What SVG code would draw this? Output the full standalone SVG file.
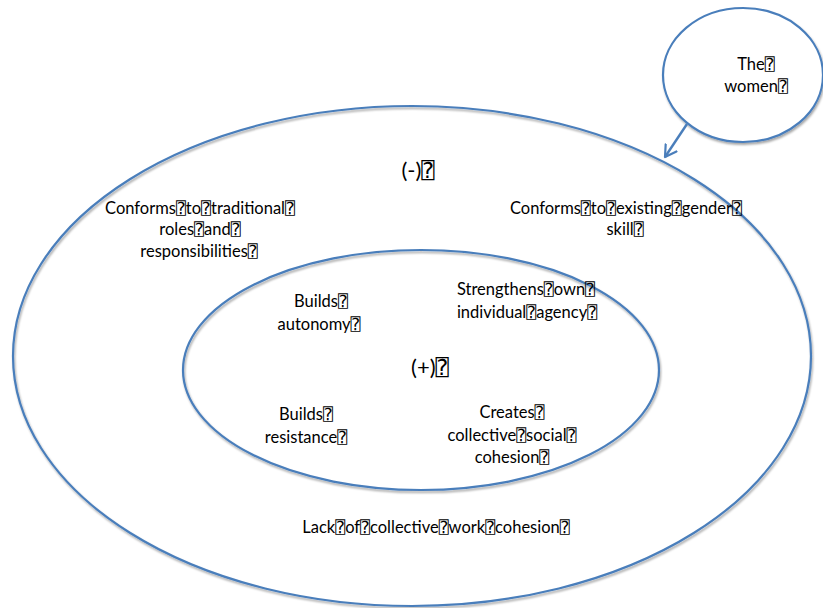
<svg xmlns="http://www.w3.org/2000/svg" width="823" height="608" viewBox="0 0 823 608">
<style>
.ring{fill:none;stroke:#4a7ebb;stroke-width:2.2}
.fill{fill:#ffffff;stroke:#4a7ebb;stroke-width:2.2}
text{font-family:Lato,"Liberation Sans","DejaVu Sans","DejaVu Sans Mono",sans-serif;font-size:16.5px;fill:#000;text-anchor:middle}
.big{font-size:22px}
</style>
<defs>
<filter id="sh" x="-5%" y="-5%" width="110%" height="115%">
<feDropShadow dx="1" dy="2" stdDeviation="1" flood-color="#000" flood-opacity="0.35"/>
</filter>
<marker id="arr" markerUnits="userSpaceOnUse" markerWidth="16" markerHeight="16" refX="12" refY="8" orient="auto">
<path d="M1,1.5 L12,8 L1,14.5" fill="none" stroke="#4a7ebb" stroke-width="2.2" stroke-linecap="round" stroke-linejoin="round"/>
</marker>
</defs>
<g id="outer">
<ellipse class="ring" filter="url(#sh)" cx="412" cy="356" rx="399" ry="250"/>
<text class="big" x="418" y="178">(-)⍰</text>
<text x="200" y="214">Conforms⍰to⍰traditional⍰</text>
<text x="200" y="235">roles⍰and⍰</text>
<text x="199" y="257">responsibilities⍰</text>
<text x="626" y="214">Conforms⍰to⍰existing⍰gender⍰</text>
<text x="625" y="235">skill⍰</text>
<text x="436" y="533">Lack⍰of⍰collective⍰work⍰cohesion⍰</text>
</g>
<g id="inner">
<ellipse class="ring" filter="url(#sh)" cx="421" cy="370" rx="238" ry="120"/>
<text x="321" y="307">Builds⍰</text>
<text x="319" y="330">autonomy⍰</text>
<text x="526" y="295">Strengthens⍰own⍰</text>
<text x="527" y="318">individual⍰agency⍰</text>
<text class="big" x="430" y="375">(+)⍰</text>
<text x="306" y="420">Builds⍰</text>
<text x="306" y="443">resistance⍰</text>
<text x="512" y="418">Creates⍰</text>
<text x="512" y="441">collective⍰social⍰</text>
<text x="512" y="463">cohesion⍰</text>
</g>
<g id="women">
<ellipse class="fill" filter="url(#sh)" cx="743" cy="75" rx="80" ry="67"/>
<text x="756" y="70">The⍰</text>
<text x="756" y="92">women⍰</text>
</g>
<g id="connectors">
<line x1="687" y1="124" x2="665" y2="157" stroke="#4a7ebb" stroke-width="2.4" marker-end="url(#arr)"/>
</g>
</svg>
